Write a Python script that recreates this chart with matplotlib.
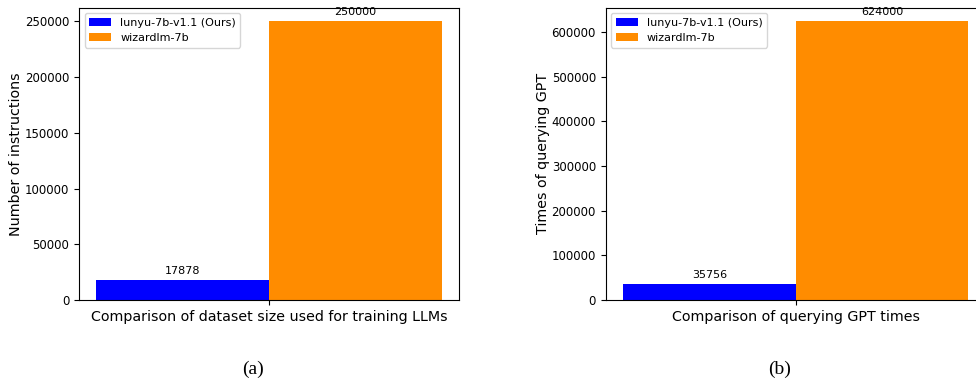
import matplotlib.pyplot as plt
import numpy as np

models = ['lunyu-7b-v1.1 (Ours)', 'wizardlm-7b']
colors = ['blue', 'darkorange']
dataset_size = [17878, 250000]
query_times = [35756, 624000]

panels = [
    (dataset_size, 'Number of instructions', 'Comparison of dataset size used for training LLMs', '(a)'),
    (query_times, 'Times of querying GPT', 'Comparison of querying GPT times', '(b)'),
]

fig = plt.figure(figsize=(9.76, 3.85), dpi=100)
lefts = [0.0809, 0.6206]
caption_x = [0.259, 0.799]
width = 0.35
x = np.arange(1)

for k, (vals, ylab, xlab, cap) in enumerate(panels):
    ax = fig.add_axes([lefts[k], 0.2208, 0.3893, 0.7597])
    for i, (name, v) in enumerate(zip(models, vals)):
        bars = ax.bar(x + (i - 0.5) * width, [v], width, label=name, color=colors[i])
        ax.bar_label(bars, labels=[str(v)], padding=3, fontsize=8)
    ax.set_xticks(x)
    ax.set_xticklabels([''])
    ax.set_xlabel(xlab, fontsize=10.3, labelpad=0)
    ax.set_ylabel(ylab, fontsize=10.3, labelpad=1)
    ax.tick_params(axis='y', labelsize=8.5)
    ax.legend(loc='upper left', fontsize=8)
    fig.text(caption_x[k], 0.04, cap, ha='center', va='center',
             fontsize=14, family='Liberation Serif')

fig.savefig('out.png', dpi=100)
